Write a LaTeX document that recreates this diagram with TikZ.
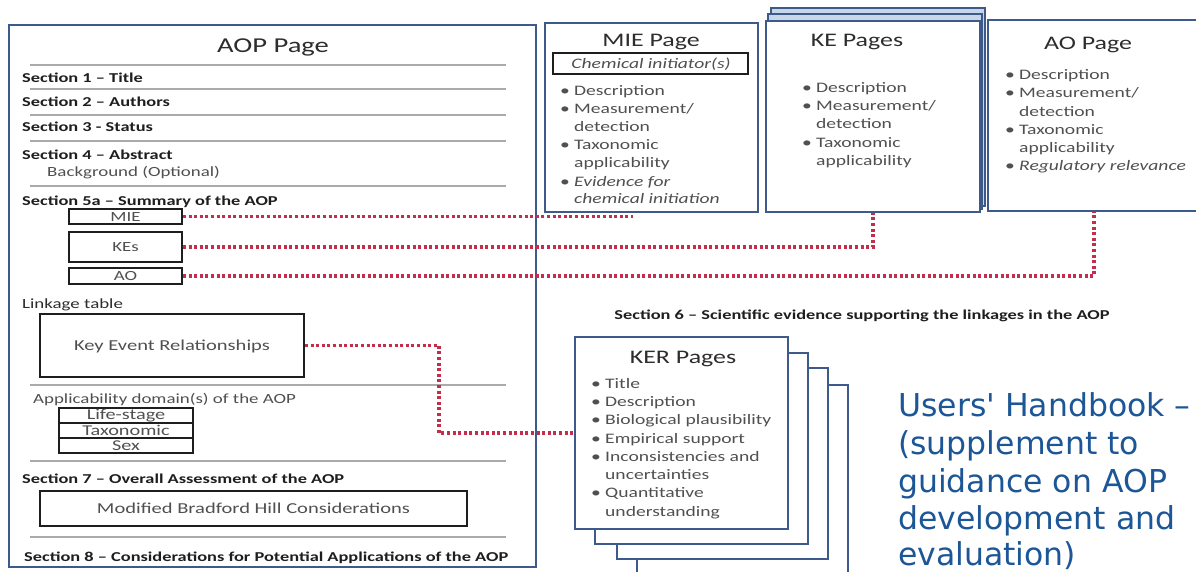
\documentclass[tikz,border=0pt]{standalone}
\usepackage{fontspec}
\setmainfont{Carlito}[FakeStretch=1.35]
\newfontfamily\hbfont{DejaVu Sans}[Ligatures=TeXOff]
\usetikzlibrary{calc}
\definecolor{boxblue}{RGB}{62,90,138}
\definecolor{txtgray}{RGB}{80,80,80}
\definecolor{ttlgray}{RGB}{45,45,45}
\definecolor{secblack}{RGB}{30,30,30}
\definecolor{sepgray}{RGB}{170,170,170}
\definecolor{dotred}{RGB}{196,45,75}
\definecolor{hbblue}{RGB}{28,86,150}
\definecolor{stackfill}{RGB}{200,214,234}
\newcommand\fsz[2]{\fontsize{#1}{#2}\selectfont}
\newcommand\bl{\makebox[14pt][l]{•}}
\newcommand\nb{\hspace*{14pt}}
\newcommand\boxnode[6]{\node[#1, minimum width={#5-#3}, minimum height={#6-#4}] (#2) at ({(#3+#5)/2},{(#4+#6)/2}) {};}
\begin{document}
\begin{tikzpicture}[x=1pt,y=-1pt,
  page/.style={draw=boxblue, line width=2.4pt, fill=white, inner sep=0},
  sheet/.style={draw=boxblue, line width=2.4pt, fill=white},
  blk/.style={draw=secblack, line width=1.8pt, inner sep=0},
  sep/.style={draw=sepgray, line width=1.6pt},
  link/.style={draw=dotred, line width=3.2pt, dash pattern=on 3pt off 2.6pt},
  ttl/.style={inner sep=0, font=\fsz{19.2}{22}, text=ttlgray, yshift=-1.5pt},
  sec/.style={anchor=west, inner sep=0, font=\fsz{13.6}{16}\bfseries, text=secblack, text height=9pt, text depth=3pt, yshift=-2pt},
  plain/.style={anchor=west, inner sep=0, font=\fsz{14}{16}, text=txtgray, text height=9.5pt, text depth=3pt, yshift=-2pt},
  cell/.style={inner sep=0, font=\fsz{15}{16}, text=txtgray, text height=10pt, text depth=3.5pt, yshift=-1.5pt},
  bul/.style={anchor=west, inner sep=0, font=\fsz{14.5}{18}, text=txtgray, text height=10pt, text depth=3.5pt, yshift=-1pt},
  hb/.style={anchor=base west, inner sep=0, font=\hbfont\fsz{31.5}{38}, text=hbblue}
]
\useasboundingbox (0,0) rectangle (1196,572);
\clip (0,0) rectangle (1196,572);

% ---------------- AOP page ----------------
\boxnode{page}{aopp}{9}{25}{536}{567}
\node[ttl, font=\fsz{21.2}{24}] (aoptitle) at (273,46) {AOP Page};
\foreach \y in {65,89,115,141,186,385,461,537} \draw[sep] (30,\y) -- (506,\y);
\node[sec] (s1) at (22,78) {Section 1 – Title};
\node[sec] (s2) at (22,102) {Section 2 – Authors};
\node[sec] (s3) at (22,127) {Section 3 - Status};
\node[sec] (s4) at (22,155) {Section 4 – Abstract};
\node[plain] (bg) at (47,171) {Background (Optional)};
\node[sec] (s5) at (22,201) {Section 5a – Summary of the AOP};
\boxnode{blk}{smie}{69}{209}{182}{224}
\boxnode{blk}{skes}{69}{232}{182}{262}
\boxnode{blk}{sao}{69}{268}{182}{284}
\node[cell, font=\fsz{14}{16}] (tmie) at (smie) {MIE};
\node[cell, font=\fsz{14}{16}] (tkes) at (skes) {KEs};
\node[cell, font=\fsz{14}{16}] (tao) at (sao) {AO};
\node[plain, text=ttlgray] (lt) at (22,303) {Linkage table};
\boxnode{blk}{kerb}{40}{314}{304}{377}
\node[cell, font=\fsz{15.2}{17}] (kert) at (kerb) {Key Event Relationships};
\node[plain] (appl) at (33,398) {Applicability domain(s) of the AOP};
\boxnode{blk}{tbl}{59}{408}{193}{453}
\draw[secblack, line width=1.6pt] (tbl.west |- 0,423) -- (tbl.east |- 0,423);
\draw[secblack, line width=1.6pt] (tbl.west |- 0,438) -- (tbl.east |- 0,438);
\node[cell] (life) at (126,415) {Life-stage};
\node[cell] (taxo) at (126,430.5) {Taxonomic};
\node[cell] (sex) at (126,446) {Sex};
\node[sec] (s7) at (22,478) {Section 7 – Overall Assessment of the AOP};
\boxnode{blk}{bhc}{40}{491}{467}{526}
\node[cell, font=\fsz{15.2}{17}] (bhct) at (bhc) {Modified Bradford Hill Considerations};
\node[sec] (s8) at (24,556) {Section 8 – Considerations for Potential Applications of the AOP};

% ---------------- MIE page ----------------
\boxnode{page}{miep}{545}{23}{758}{212}
\node[ttl] (mietitle) at (651,40.5) {MIE Page};
\boxnode{blk, line width=1.5pt}{chem}{553}{53}{748}{74}
\node[cell, font=\fsz{14.5}{16}\itshape] (chemt) at (651,63.5) {Chemical initiator(s)};
\foreach \y/\t [count=\i] in {91/{\bl Description},109/{\bl Measurement/},127/{\nb detection},145/{\bl Taxonomic},163/{\nb applicability},182/{\bl\textit{Evidence for}},199/{\nb\textit{chemical initiation}}}
  \node[bul] (mie\i) at (560,\y) {\t};

% ---------------- KE pages ----------------
\draw[sheet, fill=stackfill] (771,8) rectangle (985,206);
\draw[sheet, fill=stackfill] (768,14) rectangle (982,209);
\boxnode{page}{kep}{766}{21}{980}{212}
\node[ttl] (ketitle) at (857,40) {KE Pages};
\foreach \y/\t [count=\i] in {88/{\bl Description},106/{\bl Measurement/},124/{\nb detection},143/{\bl Taxonomic},161/{\nb applicability}}
  \node[bul] (ke\i) at (802,\y) {\t};

% ---------------- AO page ----------------
\boxnode{page}{aop}{988}{20}{1200}{211}
\node[ttl] (aotitle) at (1088,43) {AO Page};
\foreach \y/\t [count=\i] in {75/{\bl Description},93/{\bl Measurement/},112/{\nb detection},130/{\bl Taxonomic},148/{\nb applicability},166/{\bl\textit{Regulatory relevance}}}
  \node[bul] (ao\i) at (1005,\y) {\t};

% ---------------- Section 6 ----------------
\node[inner sep=0, font=\fsz{13.6}{16}\bfseries, text=secblack, yshift=-1pt] (s6) at (862,315) {Section 6 – Scientific evidence supporting the linkages in the AOP};

% ---------------- KER pages ----------------
\draw[sheet] (637,385) rectangle (848,590);
\draw[sheet] (617,368) rectangle (828,559);
\draw[sheet] (595,353) rectangle (808,544);
\boxnode{page}{kerp}{575}{337}{788}{529}
\node[ttl] (kertitle) at (683,357) {KER Pages};
\foreach \y/\t [count=\i] in {384/{\bl Title},402/{\bl Description},420/{\bl Biological plausibility},439/{\bl Empirical support},457/{\bl Inconsistencies and},475/{\nb uncertainties},493/{\bl Quantitative},512/{\nb understanding}}
  \node[bul] (ker\i) at (591,\y) {\t};

% ---------------- Handbook text ----------------
\node[hb] (hb1) at (898,416) {Users' Handbook –};
\node[hb] (hb2) at (898,454) {(supplement to};
\node[hb] (hb3) at (898,492) {guidance on AOP};
\node[hb] (hb4) at (898,529.5) {development and};
\node[hb] (hb5) at (898,565.5) {evaluation)};

% ---------------- dotted links ----------------
\coordinate (mieend) at (633,216.5);
\coordinate (kerturn) at (439,0);
\draw[link] (smie.east) -- (mieend);
\draw[link] (skes.east) -| (kep.south);
\draw[link] (sao.east) -| (aop.south);
\draw[link] (kerb.east) -- (kerb.east -| kerturn) |- (kerp.west);
\end{tikzpicture}
\end{document}
